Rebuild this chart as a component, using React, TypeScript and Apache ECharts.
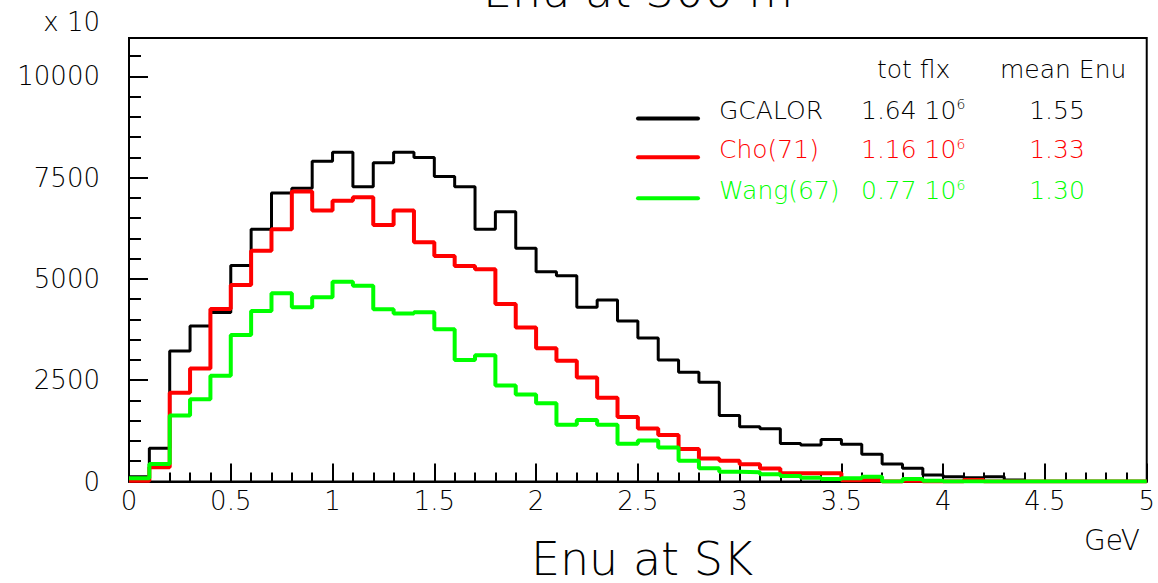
import React, { useEffect, useRef } from "react";
import * as echarts from "echarts";

// Histogram binning (GeV)
const X_MIN = 0;
const X_MAX = 5;
const BIN_WIDTH = 0.1;

// Y axis (counts, shown in units of x 10)
const Y_MAX = 10950;
const Y_MAJOR = 2500;
const Y_MINOR = 500;

// Bin contents, 50 bins of 0.1 GeV each
const GCALOR = [
  120, 820, 3220, 3840, 4170, 5330, 6230, 7120, 7240, 7910,
  8130, 7280, 7870, 8130, 8000, 7530, 7280, 6230, 6660, 5760,
  5180, 5080, 4300, 4480, 3960, 3540, 3000, 2700, 2450, 1630,
  1350, 1300, 940, 900, 1040, 920, 670, 430, 330, 160,
  120, 95, 120, 40, 0, 0, 0, 0, 0, 0,
];
const CHO = [
  20, 350, 2190, 2790, 4260, 4850, 5700, 6230, 7160, 6690,
  6930, 7020, 6330, 6690, 5910, 5570, 5320, 5240, 4380, 3800,
  3290, 2980, 2570, 2070, 1590, 1310, 1150, 800, 570, 510,
  425, 320, 205, 205, 205, 30, 40, 0, 20, 0,
  0, 40, 0, 0, 0, 0, 0, 0, 0, 0,
];
const WANG = [
  80, 430, 1630, 2030, 2610, 3620, 4210, 4650, 4300, 4550,
  4930, 4830, 4250, 4150, 4180, 3760, 3000, 3120, 2370, 2150,
  1930, 1400, 1520, 1400, 930, 1010, 840, 510, 330, 240,
  230, 180, 135, 95, 60, 80, 120, 0, 60, 20,
  0, 0, 0, 0, 0, 0, 0, 0, 0, 0,
];

// Legend table
const SERIES_NAMES = ["GCALOR", "Cho(71)", "Wang(67)"];
const SERIES_COLORS = ["#000000", "#ff0000", "#00ff00"];
const SERIES_WIDTHS = [3, 4, 4];
const TOT_FLUX = ["1.64", "1.16", "0.77"];
const FLUX_EXP = "6";
const MEAN_ENU = ["1.55", "1.33", "1.30"];
const SERIES_DATA = [GCALOR, CHO, WANG];

const FONT = "'DejaVu Sans', sans-serif";

function stepPoints(values: number[]): [number, number][] {
  const pts: [number, number][] = values.map((v, i) => [
    +(X_MIN + i * BIN_WIDTH).toFixed(2),
    v,
  ]);
  pts.push([X_MAX, values[values.length - 1]]);
  return pts;
}

export default function App() {
  const ref = useRef<HTMLDivElement>(null);

  useEffect(() => {
    if (!ref.current) return;
    const chart = echarts.init(ref.current, null, { renderer: "svg" });

    const rowY = [110, 149.5, 190.5];
    const lineY = [118.5, 157.3, 198.3];

    const legendGraphics: any[] = [];
    SERIES_NAMES.forEach((name, i) => {
      const c = SERIES_COLORS[i];
      legendGraphics.push({
        type: "line",
        shape: { x1: 638, y1: lineY[i], x2: 698, y2: lineY[i] },
        style: { stroke: c, lineWidth: 4, lineCap: "round" },
      });
      legendGraphics.push({
        type: "text",
        x: 719,
        y: rowY[i],
        style: {
          text: name,
          fill: c,
          font: `200 25px ${FONT}`,
          textAlign: "left",
          textVerticalAlign: "middle",
        },
      });
      legendGraphics.push({
        type: "text",
        x: 861,
        y: rowY[i],
        style: {
          text: `{n|${TOT_FLUX[i]} 10}{s|${FLUX_EXP}}`,
          fill: c,
          textAlign: "left",
          textVerticalAlign: "middle",
          rich: {
            n: { fontSize: 25, fontFamily: FONT, fontWeight: 200, fill: c, lineHeight: 26 },
            s: { fontSize: 14, fontFamily: FONT, fontWeight: 200, fill: c, verticalAlign: "top", lineHeight: 14 },
          },
        },
      });
      legendGraphics.push({
        type: "text",
        x: 1057,
        y: rowY[i],
        style: {
          text: MEAN_ENU[i],
          fill: c,
          font: `200 25px ${FONT}`,
          textAlign: "center",
          textVerticalAlign: "middle",
        },
      });
    });

    chart.setOption({
      animation: false,
      backgroundColor: "#ffffff",
      grid: {
        left: 129,
        right: 11,
        top: 38,
        bottom: 101.5,
        show: true,
        borderColor: "#000000",
        borderWidth: 2,
        backgroundColor: "transparent",
      },
      xAxis: {
        type: "value",
        min: X_MIN,
        max: X_MAX,
        interval: 0.5,
        axisLine: { show: true, onZero: false, lineStyle: { color: "#000", width: 2 } },
        axisTick: { show: true, inside: true, length: 18, lineStyle: { color: "#000", width: 2 } },
        minorTick: { show: true, splitNumber: 5, length: 9, lineStyle: { color: "#000", width: 2 } },
        axisLabel: {
          color: "#000",
          fontFamily: FONT,
          fontWeight: 200,
          fontSize: 26,
          margin: 6,
          formatter: (v: number) => String(v),
        },
        splitLine: { show: false },
        minorSplitLine: { show: false },
      },
      yAxis: [
        {
          type: "value",
          min: 0,
          max: Y_MAX,
          interval: Y_MAJOR,
          axisLine: { show: true, lineStyle: { color: "#000", width: 2 } },
          axisTick: { show: true, inside: true, length: 19, lineStyle: { color: "#000", width: 2 } },
          axisLabel: {
            color: "#000",
            fontFamily: FONT,
            fontWeight: 200,
            fontSize: 26,
            margin: 29,
            showMaxLabel: false,
            formatter: (v: number) => String(v),
          },
          splitLine: { show: false },
        },
        {
          type: "value",
          position: "left",
          min: 0,
          max: Y_MAX,
          interval: Y_MINOR,
          axisLine: { show: false },
          axisTick: { show: true, inside: true, length: 12, lineStyle: { color: "#000", width: 2 } },
          axisLabel: { show: false },
          splitLine: { show: false },
        },
      ],
      series: SERIES_DATA.map((vals, i) => ({
        type: "line",
        name: SERIES_NAMES[i],
        step: "end",
        showSymbol: false,
        symbol: "none",
        data: stepPoints(vals),
        lineStyle: { color: SERIES_COLORS[i], width: SERIES_WIDTHS[i] },
        itemStyle: { color: SERIES_COLORS[i] },
        z: 2 + i,
      })),
      graphic: [
        {
          type: "text",
          x: 638,
          y: -9,
          style: {
            text: "Enu at 300 m",
            fill: "#000",
            font: `200 46px ${FONT}`,
            textAlign: "center",
            textVerticalAlign: "middle",
          },
        },
        {
          type: "text",
          x: 642,
          y: 559,
          style: {
            text: "Enu at SK",
            fill: "#000",
            font: `200 46px ${FONT}`,
            textAlign: "center",
            textVerticalAlign: "middle",
          },
        },
        {
          type: "text",
          x: 1140,
          y: 540,
          style: {
            text: "GeV",
            fill: "#000",
            font: `200 28px ${FONT}`,
            textAlign: "right",
            textVerticalAlign: "middle",
          },
        },
        {
          type: "text",
          x: 100,
          y: 22,
          style: {
            text: "x 10",
            fill: "#000",
            font: `200 26px ${FONT}`,
            textAlign: "right",
            textVerticalAlign: "middle",
          },
        },
        {
          type: "text",
          x: 877,
          y: 69,
          style: {
            text: "tot flx",
            fill: "#000",
            font: `200 25px ${FONT}`,
            textAlign: "left",
            textVerticalAlign: "middle",
          },
        },
        {
          type: "text",
          x: 1000,
          y: 69,
          style: {
            text: "mean Enu",
            fill: "#000",
            font: `200 25px ${FONT}`,
            textAlign: "left",
            textVerticalAlign: "middle",
          },
        },
        ...legendGraphics,
      ],
    });

    return () => chart.dispose();
  }, []);

  return (
    <div
      ref={ref}
      style={{ position: "absolute", left: 0, top: 0, width: 1158, height: 583 }}
    />
  );
}
